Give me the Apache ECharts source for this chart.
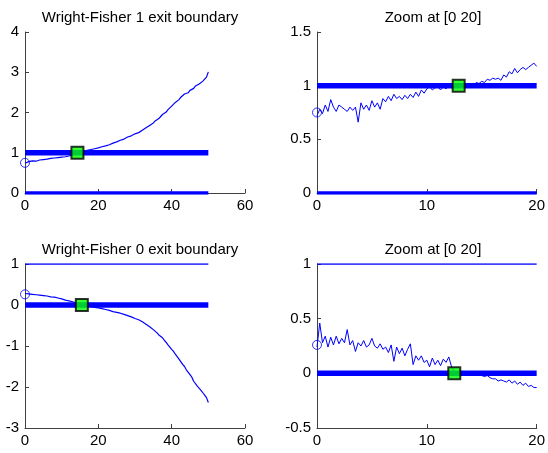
<!DOCTYPE html>
<html>
<head>
<meta charset="utf-8">
<script src="https://cdn.jsdelivr.net/npm/echarts@6/dist/echarts.min.js"></script>
<style>
  html, body { margin: 0; padding: 0; background: #fff; }
  #chart { width: 548px; height: 453px; }
</style>
</head>
<body>
<div id="chart"></div>
<script>
// full run on [0 50], step 0.5
const tFull = [0,0.5,1,1.5,2,2.5,3,3.5,4,4.5,5,5.5,6,6.5,7,7.5,8,8.5,9,9.5,10,10.5,11,11.5,12,12.5,13,13.5,14,14.5,15,15.5,16,16.5,17,17.5,18,18.5,19,19.5,20,20.5,21,21.5,22,22.5,23,23.5,24,24.5,25,25.5,26,26.5,27,27.5,28,28.5,29,29.5,30,30.5,31,31.5,32,32.5,33,33.5,34,34.5,35,35.5,36,36.5,37,37.5,38,38.5,39,39.5,40,40.5,41,41.5,42,42.5,43,43.5,44,44.5,45,45.5,46,46.5,47,47.5,48,48.5,49,49.5,50];
const exit1Full = [0.74,0.70,0.78,0.75,0.80,0.77,0.79,0.81,0.82,0.79,0.83,0.81,0.84,0.86,0.86,0.84,0.87,0.89,0.88,0.86,0.89,0.92,0.90,0.93,0.92,0.95,0.95,0.97,0.98,1.00,1.01,1.03,1.04,1.05,1.06,1.08,1.08,1.10,1.10,1.12,1.12,1.13,1.15,1.16,1.17,1.19,1.20,1.22,1.24,1.25,1.27,1.30,1.31,1.32,1.34,1.37,1.39,1.40,1.42,1.44,1.47,1.48,1.50,1.53,1.56,1.59,1.62,1.64,1.68,1.71,1.74,1.79,1.82,1.85,1.90,1.95,1.99,2.01,2.07,2.10,2.16,2.19,2.25,2.26,2.32,2.38,2.40,2.46,2.50,2.49,2.55,2.58,2.60,2.66,2.68,2.71,2.74,2.78,2.82,2.88,3.01];
const exit0Full = [0.28,0.30,0.27,0.28,0.26,0.27,0.25,0.26,0.24,0.23,0.23,0.24,0.22,0.20,0.20,0.21,0.19,0.17,0.17,0.18,0.15,0.14,0.12,0.13,0.10,0.09,0.08,0.06,0.05,0.03,0.02,0.01,0.00,-0.01,-0.02,-0.03,-0.04,-0.05,-0.06,-0.06,-0.07,-0.08,-0.09,-0.10,-0.11,-0.12,-0.13,-0.15,-0.16,-0.17,-0.18,-0.19,-0.20,-0.22,-0.23,-0.25,-0.26,-0.28,-0.29,-0.31,-0.33,-0.34,-0.36,-0.39,-0.41,-0.44,-0.47,-0.49,-0.53,-0.57,-0.60,-0.63,-0.68,-0.73,-0.76,-0.80,-0.86,-0.91,-0.97,-1.01,-1.08,-1.13,-1.20,-1.24,-1.32,-1.36,-1.45,-1.50,-1.58,-1.62,-1.70,-1.76,-1.86,-1.89,-1.98,-2.01,-2.08,-2.14,-2.20,-2.26,-2.38];

// zoomed run on [0 20], step 0.25
const tZoom = [0,0.25,0.5,0.75,1,1.25,1.5,1.75,2,2.25,2.5,2.75,3,3.25,3.5,3.75,4,4.25,4.5,4.75,5,5.25,5.5,5.75,6,6.25,6.5,6.75,7,7.25,7.5,7.75,8,8.25,8.5,8.75,9,9.25,9.5,9.75,10,10.25,10.5,10.75,11,11.25,11.5,11.75,12,12.25,12.5,12.75,13,13.25,13.5,13.75,14,14.25,14.5,14.75,15,15.25,15.5,15.75,16,16.25,16.5,16.75,17,17.25,17.5,17.75,18,18.25,18.5,18.75,19,19.25,19.5,19.75,20];
const exit1Zoom = [0.72,0.78,0.74,0.82,0.76,0.87,0.80,0.76,0.82,0.80,0.78,0.76,0.80,0.77,0.80,0.66,0.84,0.78,0.82,0.77,0.86,0.80,0.84,0.78,0.88,0.85,0.90,0.86,0.92,0.88,0.90,0.87,0.91,0.88,0.92,0.89,0.94,0.90,0.96,0.93,0.97,0.99,0.96,0.98,0.99,0.96,0.99,0.97,1.00,0.98,1.01,0.99,1.00,0.99,1.00,0.99,1.01,0.99,1.03,1.02,1.04,1.03,1.06,1.05,1.07,1.06,1.07,1.05,1.10,1.08,1.13,1.11,1.16,1.12,1.15,1.17,1.15,1.17,1.19,1.21,1.18];
const exit0Zoom = [0.24,0.46,0.28,0.34,0.24,0.33,0.26,0.34,0.27,0.32,0.28,0.40,0.26,0.30,0.20,0.28,0.25,0.30,0.24,0.26,0.32,0.25,0.23,0.27,0.22,0.24,0.19,0.26,0.11,0.24,0.18,0.23,0.16,0.22,0.27,0.08,0.16,0.12,0.16,0.10,0.12,0.06,0.14,0.08,0.12,0.07,0.13,0.10,0.15,0.06,0.02,0.01,0.00,0.00,-0.01,0.00,0.00,0.00,-0.01,0.00,-0.02,-0.03,-0.02,-0.04,-0.05,-0.05,-0.07,-0.06,-0.07,-0.08,-0.06,-0.09,-0.07,-0.10,-0.08,-0.11,-0.09,-0.12,-0.11,-0.13,-0.13];

// start points and exit (hit) points
const start1 = [0, 0.75];
const hit1Full = [14.3, 1];
const hit1Zoom = [12.9, 1];
const start0 = [0, 0.26];
const hit0Full = [15.5, 0];
const hit0Zoom = [12.5, 0];

const titles = ['Wright-Fisher 1 exit boundary', 'Zoom at [0 20]', 'Wright-Fisher 0 exit boundary', 'Zoom at [0 20]'];

const BLUE = '#0000ff';
const FONT = 'Liberation Sans, Arial, sans-serif';
const pair = (xs, ys) => xs.map((x, i) => [x, ys[i]]);

const panels = [
  { grid: { left: 25, right: 303, top: 32, bottom: 260 }, x: [0, 60, 20], y: [0, 4, 1], tEnd: 50,
    traj: pair(tFull, exit1Full), start: start1, hit: hit1Full, thick: 1, thin: 0, thinW: 3.5, trajW: 1.2 },
  { grid: { left: 317, right: 9, top: 32, bottom: 260 }, x: [0, 20, 10], y: [0, 1.5, 0.5], tEnd: 20,
    traj: pair(tZoom, exit1Zoom), start: start1, hit: hit1Zoom, thick: 1, thin: 0, thinW: 3.5, trajW: 1 },
  { grid: { left: 25, right: 303, top: 264, bottom: 25 }, x: [0, 60, 20], y: [-3, 1, 1], tEnd: 50,
    traj: pair(tFull, exit0Full), start: start0, hit: hit0Full, thick: 0, thin: 1, thinW: 1.5, trajW: 1.2 },
  { grid: { left: 317, right: 9, top: 264, bottom: 25 }, x: [0, 20, 10], y: [-0.5, 1, 0.5], tEnd: 20,
    traj: pair(tZoom, exit0Zoom), start: start0, hit: hit0Zoom, thick: 0, thin: 1, thinW: 1.5, trajW: 1 }
];

const axisStyle = {
  axisLine: { show: true, onZero: false, lineStyle: { color: '#404040', width: 1 } },
  axisTick: { show: true, inside: true, length: 4, lineStyle: { color: '#404040' } },
  axisLabel: { color: '#000', fontSize: 15, fontFamily: FONT },
  splitLine: { show: false }
};

const option = {
  animation: false,
  backgroundColor: '#fff',
  title: [], grid: [], xAxis: [], yAxis: [], series: []
};

panels.forEach((p, i) => {
  const g = p.grid;
  option.grid.push(Object.assign({ containLabel: false }, g));
  option.title.push({
    text: titles[i], left: (g.left + (548 - g.right)) / 2, top: g.top - 27, textAlign: 'center',
    textStyle: { fontSize: 15, fontWeight: 'normal', color: '#000', fontFamily: FONT }
  });
  option.xAxis.push(Object.assign({ type: 'value', gridIndex: i, min: p.x[0], max: p.x[1], interval: p.x[2] }, axisStyle,
    { axisLabel: Object.assign({}, axisStyle.axisLabel, { margin: 5 }) }));
  option.yAxis.push(Object.assign({ type: 'value', gridIndex: i, min: p.y[0], max: p.y[1], interval: p.y[2] }, axisStyle,
    { axisLabel: Object.assign({}, axisStyle.axisLabel, { margin: 6 }) }));
  const base = { xAxisIndex: i, yAxisIndex: i, silent: true };
  option.series.push(Object.assign({ type: 'line', showSymbol: false, data: [[0, p.thick], [p.tEnd, p.thick]],
    lineStyle: { color: BLUE, width: 5.5 } }, base));
  option.series.push(Object.assign({ type: 'line', showSymbol: false, data: [[0, p.thin], [p.tEnd, p.thin]],
    lineStyle: { color: BLUE, width: p.thinW } }, base));
  option.series.push(Object.assign({ type: 'line', showSymbol: false, data: p.traj,
    lineStyle: { color: BLUE, width: p.trajW } }, base));
  option.series.push(Object.assign({ type: 'scatter', symbol: 'circle', symbolSize: 9, data: [p.start],
    itemStyle: { color: 'transparent', borderColor: BLUE, borderWidth: 1 } }, base));
  option.series.push(Object.assign({ type: 'scatter', symbol: 'rect', symbolSize: 12, data: [p.hit], z: 5,
    itemStyle: { color: '#00ff00', borderColor: '#000', borderWidth: 2 } }, base));
});

const chart = echarts.init(document.getElementById('chart'), null, { renderer: 'canvas' });
chart.setOption(option);
</script>
</body>
</html>
